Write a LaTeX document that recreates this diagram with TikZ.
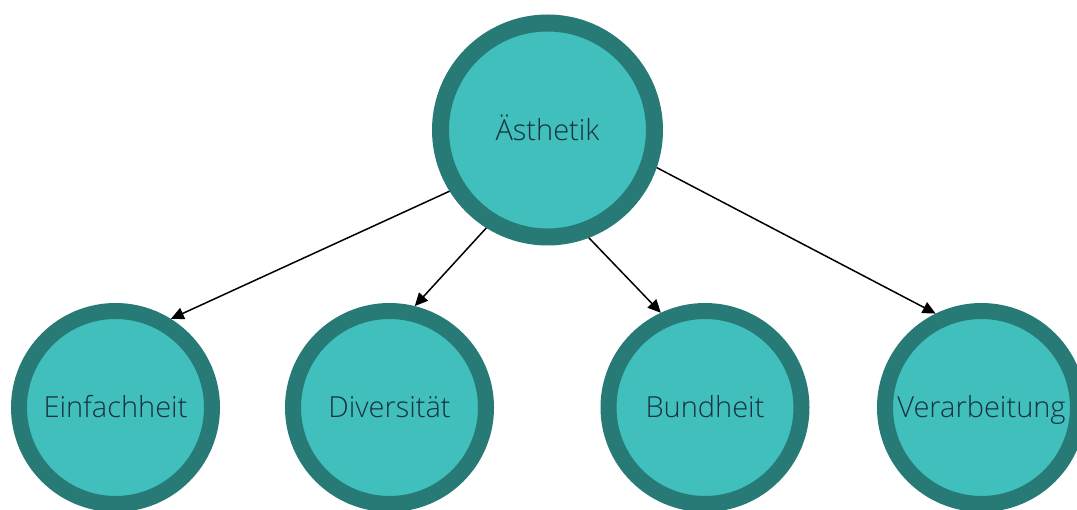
\documentclass[tikz,border=0pt]{standalone}
\usepackage{fontspec}
\setmainfont{Open Sans}[UprightFont={* Light}]
\usetikzlibrary{arrows.meta}
\definecolor{ringc}{HTML}{277A76}
\definecolor{fillc}{HTML}{40BFBC}
\definecolor{txtc}{HTML}{18323D}
\tikzset{
  lbl/.style={font=\fontsize{29}{33}\selectfont, text=txtc, text height=25pt, text depth=4pt, inner sep=0pt},
  big/.style={circle, lbl, draw=ringc, fill=fillc, line width=17pt, outer sep=8.5pt, minimum size=214pt},
  small/.style={circle, lbl, draw=ringc, fill=fillc, line width=16pt, outer sep=8pt, minimum size=193pt},
  link/.style={draw=black, line width=1.5pt, -{Triangle[length=13pt,width=12pt]}}
}
\begin{document}
\begin{tikzpicture}[x=1pt,y=-1pt]
\useasboundingbox (0,0) rectangle (1077,510);
\node[big] (a) at (547.5,130) {Ästhetik};
\node[small] (e) at (115.5,407.5) {Einfachheit};
\node[small] (d) at (389.5,407.5) {Diversität};
\node[small] (b) at (705,407.5) {Bundheit};
\node[small] (v) at (981.5,407.5) {Verarbeitung};
\draw[link] (a.212) -- (e.58);
\draw[link] (a.238) -- (d.76);
\draw[link] (a.291) -- (b.115);
\draw[link] (a.341) -- (v.116);
\end{tikzpicture}
\end{document}
